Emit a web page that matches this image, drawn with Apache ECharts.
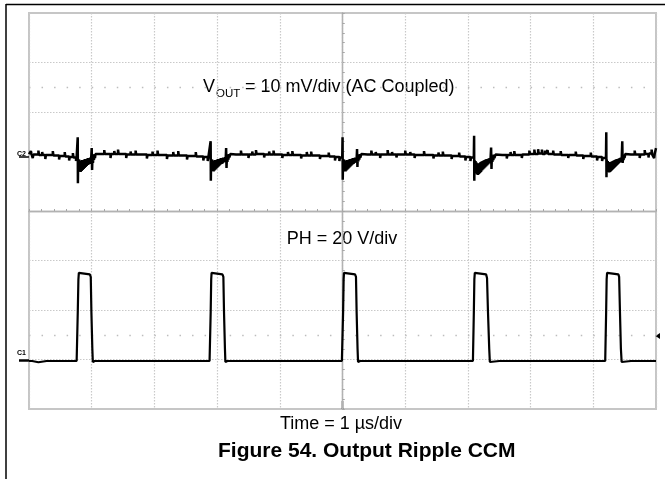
<!DOCTYPE html>
<html><head><meta charset="utf-8">
<script src="https://cdn.jsdelivr.net/npm/echarts@6/dist/echarts.min.js"></script>
<style>html,body{margin:0;padding:0;background:#fff}#c{width:665px;height:479px}</style>
</head><body><div id="c"></div><script>
const FONT = '"Liberation Sans", Arial, sans-serif';

// Horizontal: time in µs relative to trigger (1 µs/div, 10 div)
const timeRangeUs = [-5, 5];
// Vertical: screen divisions (8 div)
const divRange = [-4, 4];

// Channel 2: VOUT ripple, [time µs, mV] (AC coupled, 10 mV/div)
const voutScale = 10, voutOffsetDiv = 1.13;
const vout_mV = [
 [-5.00,0.2],[-4.97,0.2],[-4.97,0.8],[-4.96,0.2],[-4.94,0.2],[-4.94,-0.6],[-4.93,0.1],[-4.85,0.1],[-4.85,0.9],[-4.84,0.0],[-4.79,0.0],[-4.79,0.6],[-4.78,0.0],[-4.74,0.0],[-4.74,-0.8],[-4.73,0.0],[-4.62,0.0],[-4.62,0.8],[-4.61,-0.1],[-4.52,-0.1],[-4.52,-0.9],[-4.51,-0.2],[-4.43,-0.2],[-4.43,0.6],[-4.42,-0.3],[-4.36,-0.3],[-4.36,-1.1],[-4.35,-0.4],[-4.30,-0.4],[-4.30,0.4],[-4.29,-0.5],[-4.25,-0.5],[-4.25,-1.2],[-4.24,-0.4],
 [-4.226,-0.4],[-4.223,3.6],[-4.220,-5.7],[-4.216,-0.8],[-4.208,-3.0],[-4.200,-0.9],[-4.192,-3.3],[-4.184,-1.1],[-4.176,-3.4],[-4.168,-1.2],[-4.160,-3.2],[-4.152,-1.0],[-4.144,-3.0],[-4.136,-1.0],[-4.128,-2.8],[-4.120,-0.9],[-4.112,-2.6],[-4.104,-0.8],[-4.096,-2.4],[-4.088,-0.8],[-4.080,-2.2],[-4.072,-0.7],[-4.064,-2.0],[-4.056,-0.6],[-4.048,-1.9],[-4.040,-0.6],[-4.032,-1.8],[-4.024,-0.5],[-4.016,-1.6],[-4.008,-0.5],[-4.000,1.4],[-3.994,-3.0],[-3.988,-0.4],[-3.980,-1.6],[-3.972,-0.2],[-3.964,-1.0],[-3.956,0.2],[-3.948,-0.6],[-3.94,0.2],[-3.92,0.0],
 [-3.85,0.2],[-3.80,0.2],[-3.80,1.0],[-3.79,0.2],[-3.70,0.2],[-3.70,-0.6],[-3.69,0.2],[-3.64,0.2],[-3.64,0.8],[-3.63,0.2],[-3.58,0.2],[-3.58,1.1],[-3.57,0.2],[-3.45,0.2],[-3.45,-0.6],[-3.44,0.1],[-3.38,0.1],[-3.38,0.7],[-3.37,0.1],[-3.30,0.1],[-3.30,0.9],[-3.29,0.1],[-3.12,0.1],[-3.12,-0.7],[-3.11,0.0],[-3.03,0.0],[-3.03,0.7],[-3.02,0.0],[-2.95,0.0],[-2.95,0.9],[-2.94,0.0],[-2.80,0.0],[-2.80,-0.8],[-2.79,-0.1],[-2.70,-0.1],[-2.70,0.6],[-2.69,-0.1],[-2.62,-0.1],[-2.62,0.8],[-2.61,-0.1],[-2.48,-0.1],[-2.48,-0.9],[-2.47,-0.2],[-2.34,-0.2],[-2.34,0.6],[-2.33,-0.3],[-2.22,-0.3],[-2.22,-1.1],[-2.21,-0.4],[-2.15,-0.4],[-2.15,-1.2],[-2.14,-0.5],[-2.11,-0.5],
 [-2.106,-0.4],[-2.103,2.8],[-2.100,-5.2],[-2.096,-0.8],[-2.088,-2.8],[-2.080,-0.9],[-2.072,-3.2],[-2.064,-1.1],[-2.056,-3.3],[-2.048,-1.2],[-2.040,-3.1],[-2.032,-1.0],[-2.024,-2.9],[-2.016,-1.0],[-2.008,-2.7],[-2.000,-0.9],[-1.992,-2.5],[-1.984,-0.8],[-1.976,-2.3],[-1.968,-0.8],[-1.960,-2.1],[-1.952,-0.7],[-1.944,-1.9],[-1.936,-0.6],[-1.928,-1.8],[-1.920,-0.6],[-1.912,-1.7],[-1.904,-0.5],[-1.896,-1.5],[-1.888,-0.5],[-1.880,-1.4],[-1.872,-0.4],[-1.864,-1.2],[-1.856,1.4],[-1.850,-2.6],[-1.844,-0.4],[-1.836,-1.4],[-1.828,-0.1],[-1.820,-0.9],[-1.812,0.2],[-1.804,-0.5],[-1.79,0.2],[-1.77,0.0],
 [-1.70,0.1],[-1.62,0.1],[-1.62,0.9],[-1.61,0.1],[-1.50,0.1],[-1.50,-0.6],[-1.49,0.1],[-1.44,0.1],[-1.44,0.7],[-1.43,0.1],[-1.38,0.1],[-1.38,1.0],[-1.37,0.2],[-1.25,0.2],[-1.25,-0.5],[-1.24,0.1],[-1.17,0.1],[-1.17,0.7],[-1.16,0.1],[-1.10,0.1],[-1.10,0.9],[-1.09,0.1],[-0.96,0.1],[-0.96,-0.6],[-0.95,0.0],[-0.87,0.0],[-0.87,0.6],[-0.86,0.0],[-0.80,0.0],[-0.80,0.8],[-0.79,0.0],[-0.66,0.0],[-0.66,-0.7],[-0.65,-0.1],[-0.57,-0.1],[-0.57,0.6],[-0.56,-0.1],[-0.50,-0.1],[-0.50,0.7],[-0.49,-0.1],[-0.36,-0.1],[-0.36,-0.8],[-0.35,-0.2],[-0.22,-0.2],[-0.22,0.5],[-0.21,-0.3],[-0.12,-0.3],[-0.12,-1.1],[-0.11,-0.4],[-0.05,-0.4],[-0.05,-1.2],[-0.04,-0.5],[-0.004,-0.5],
 [-0.002,-0.4],[0.001,3.6],[0.004,-5.0],[0.008,-0.8],[0.016,-2.9],[0.024,-0.9],[0.032,-3.2],[0.040,-1.1],[0.048,-3.3],[0.056,-1.2],[0.064,-3.1],[0.072,-1.0],[0.080,-2.9],[0.088,-1.0],[0.096,-2.7],[0.104,-0.9],[0.112,-2.5],[0.120,-0.8],[0.128,-2.3],[0.136,-0.8],[0.144,-2.1],[0.152,-0.7],[0.160,-1.9],[0.168,-0.6],[0.176,-1.8],[0.184,-0.6],[0.192,-1.6],[0.200,-0.5],[0.208,-1.5],[0.216,-0.5],[0.224,-1.3],[0.232,1.2],[0.238,-2.4],[0.244,-0.4],[0.252,-1.3],[0.260,-0.1],[0.268,-0.9],[0.276,0.2],[0.284,-0.5],[0.30,0.2],[0.33,0.0],
 [0.40,0.1],[0.46,0.1],[0.46,0.9],[0.47,0.1],[0.53,0.1],[0.53,0.6],[0.54,0.1],[0.60,0.1],[0.60,-0.6],[0.61,0.1],[0.72,0.1],[0.72,1.0],[0.73,0.1],[0.79,0.1],[0.79,0.6],[0.80,0.1],[0.86,0.1],[0.86,-0.5],[0.87,0.1],[1.00,0.1],[1.00,0.9],[1.01,0.1],[1.08,0.1],[1.08,0.6],[1.09,0.1],[1.15,0.1],[1.15,-0.6],[1.16,0.0],[1.30,0.0],[1.30,0.8],[1.31,0.0],[1.45,0.0],[1.45,-0.7],[1.46,-0.1],[1.53,-0.1],[1.53,0.5],[1.54,-0.1],[1.60,-0.1],[1.60,0.7],[1.61,-0.1],[1.74,-0.1],[1.74,-0.8],[1.75,-0.2],[1.86,-0.2],[1.86,0.5],[1.87,-0.3],[1.96,-0.3],[1.96,-1.1],[1.97,-0.4],[2.04,-0.4],[2.04,-1.2],[2.05,-0.5],[2.094,-0.5],
 [2.096,-0.4],[2.099,3.9],[2.102,-5.2],[2.106,-1.0],[2.114,-3.2],[2.122,-1.2],[2.130,-3.6],[2.138,-1.5],[2.146,-3.9],[2.154,-1.7],[2.162,-4.0],[2.170,-1.7],[2.178,-3.8],[2.186,-1.6],[2.194,-3.6],[2.202,-1.4],[2.210,-3.4],[2.218,-1.3],[2.226,-3.1],[2.234,-1.2],[2.242,-2.9],[2.250,-1.1],[2.258,-2.7],[2.266,-1.0],[2.274,-2.5],[2.282,-0.9],[2.290,-2.3],[2.298,-0.8],[2.306,-2.1],[2.314,-0.8],[2.322,-1.9],[2.330,-0.7],[2.338,-1.7],[2.346,-0.6],[2.354,-1.5],[2.362,-0.5],[2.370,1.5],[2.376,-2.8],[2.382,-0.4],[2.390,-1.4],[2.398,-0.2],[2.406,-1.0],[2.414,0.1],[2.422,-0.6],[2.44,0.1],[2.47,0.0],
 [2.55,0.0],[2.62,0.0],[2.62,-0.7],[2.63,0.0],[2.68,0.0],[2.68,0.6],[2.69,0.0],[2.74,0.0],[2.74,0.8],[2.75,0.0],[2.86,0.0],[2.86,-0.6],[2.87,0.1],[2.98,0.1],[2.98,0.9],[2.99,0.2],[3.06,0.2],[3.06,1.1],[3.07,0.2],[3.12,0.2],[3.12,1.2],[3.13,0.3],[3.18,0.3],[3.18,1.1],[3.19,0.2],[3.23,0.2],[3.23,0.9],[3.24,0.2],[3.27,0.2],[3.27,1.0],[3.28,0.2],[3.36,0.2],[3.36,0.9],[3.37,0.1],[3.48,0.1],[3.48,0.8],[3.49,0.0],[3.60,0.0],[3.60,-0.6],[3.61,0.0],[3.72,0.0],[3.72,0.7],[3.73,-0.1],[3.84,-0.1],[3.84,-0.8],[3.85,-0.2],[3.96,-0.2],[3.96,0.5],[3.97,-0.3],[4.06,-0.3],[4.06,-1.1],[4.07,-0.4],[4.14,-0.4],[4.14,-1.2],[4.15,-0.6],[4.202,-0.6],
 [4.204,-0.5],[4.207,4.6],[4.210,-4.5],[4.214,-0.9],[4.222,-3.0],[4.230,-1.2],[4.238,-3.4],[4.246,-1.4],[4.254,-3.5],[4.262,-1.5],[4.270,-3.4],[4.278,-1.4],[4.286,-3.2],[4.294,-1.3],[4.302,-3.0],[4.310,-1.2],[4.318,-2.8],[4.326,-1.1],[4.334,-2.6],[4.342,-1.0],[4.350,-2.4],[4.358,-0.9],[4.366,-2.2],[4.374,-0.8],[4.382,-2.0],[4.390,-0.8],[4.398,-1.8],[4.406,-0.7],[4.414,-1.6],[4.422,-0.6],[4.430,-1.4],[4.438,-0.5],[4.446,-1.2],[4.454,-0.4],[4.462,2.8],[4.468,-1.6],[4.474,-0.3],[4.482,-1.0],[4.490,0.1],[4.498,-0.6],[4.51,0.2],[4.54,0.0],
 [4.60,0.1],[4.66,0.1],[4.66,0.9],[4.67,0.1],[4.74,0.1],[4.74,-0.6],[4.75,0.1],[4.82,0.1],[4.82,1.0],[4.83,0.2],[4.88,0.2],[4.88,-0.5],[4.89,0.3],[4.93,0.3],[4.93,1.1],[4.94,0.1],[4.97,0.2],[4.97,-0.6],[4.98,0.3],[5.00,1.4]
];

// Channel 1: PH switch node, [time µs, V] (20 V/div)
const phScale = 20, phOffsetDiv = -3.03;
const ph_V = [
 [-5.00,0.0],[-4.95,0.0],[-4.85,-0.5],[-4.84,0.0],[-4.72,0.0],[-4.71,-0.5],[-4.70,0.0],[-4.58,0.0],[-4.57,-0.5],[-4.56,0.0],[-4.46,0.0],[-4.45,-0.5],[-4.44,0.0],[-4.24,0.0],
 [-4.232,0.5],[-4.222,20],[-4.212,33],[-4.205,35.6],[-4.19,35.6],[-4.175,35.0],[-4.03,35.0],[-4.015,34.0],[-4.005,20],[-3.99,5],[-3.982,-0.4],[-3.96,-0.4],[-3.95,0.0],
 [-3.90,0.0],[-3.89,-0.5],[-3.88,0.0],[-3.78,0.0],[-3.77,-0.5],[-3.76,0.0],[-3.55,0.0],[-3.54,-0.5],[-3.53,0.0],[-3.30,0.0],[-3.29,-0.5],[-3.28,0.0],[-2.95,0.0],[-2.94,-0.5],[-2.93,0.0],[-2.70,0.0],[-2.69,-0.5],[-2.68,0.0],[-2.40,0.0],[-2.39,-0.5],[-2.38,0.0],[-2.12,0.0],
 [-2.112,0.5],[-2.102,20],[-2.094,33],[-2.088,35.6],[-2.072,35.6],[-2.06,35.0],[-1.915,35.0],[-1.90,34.0],[-1.89,20],[-1.875,5],[-1.868,-0.4],[-1.845,-0.4],[-1.835,0.0],
 [-1.75,0.0],[-1.74,-0.5],[-1.73,0.0],[-1.50,0.0],[-1.49,-0.5],[-1.48,0.0],[-1.20,0.0],[-1.19,-0.5],[-1.18,0.0],[-0.85,0.0],[-0.84,-0.5],[-0.83,0.0],[-0.55,0.0],[-0.54,-0.5],[-0.53,0.0],[-0.25,0.0],[-0.24,-0.4],[-0.23,0.0],[-0.01,0.0],
 [0.000,0.5],[0.010,20],[0.018,33],[0.024,35.6],[0.04,35.6],[0.052,35.0],[0.20,35.0],[0.215,34.0],[0.225,20],[0.24,5],[0.248,-0.4],[0.27,-0.4],[0.28,0.0],
 [0.40,0.0],[0.41,-0.5],[0.42,0.0],[0.70,0.0],[0.71,-0.5],[0.72,0.0],[1.00,0.0],[1.01,-0.5],[1.02,0.0],[1.30,0.0],[1.31,-0.5],[1.32,0.0],[1.60,0.0],[1.61,-0.5],[1.62,0.0],[1.85,0.0],[1.86,-0.4],[1.87,0.0],[2.08,0.0],
 [2.085,0.5],[2.095,20],[2.103,33],[2.11,35.6],[2.125,35.6],[2.137,35.0],[2.29,35.0],[2.305,33.5],[2.32,20],[2.34,5],[2.35,-0.4],[2.37,-0.4],[2.38,0.0],
 [2.50,0.0],[2.51,-0.5],[2.52,0.0],[2.80,0.0],[2.81,-0.5],[2.82,0.0],[3.10,0.0],[3.11,-0.5],[3.12,0.0],[3.40,0.0],[3.41,-0.5],[3.42,0.0],[3.70,0.0],[3.71,-0.5],[3.72,0.0],[3.95,0.0],[3.96,-0.4],[3.97,0.0],[4.19,0.0],
 [4.195,0.5],[4.205,20],[4.213,33],[4.22,35.6],[4.235,35.6],[4.247,35.0],[4.40,35.0],[4.412,34.0],[4.425,20],[4.44,5],[4.452,-0.4],[4.47,-0.4],[4.48,0.0],
 [4.60,0.0],[4.61,-0.5],[4.62,0.0],[4.75,0.0],[4.76,0.5],[4.77,0.0],[4.90,0.0],[4.91,-0.5],[4.92,0.0],[5.00,0.0]
];

// Graticule levels (divisions)
const dottedLevels = [3, 2, -1, -2, -3];
const halfDivLevels = [2.5, -2.5];

// Texts
const voutLabel = ['V', 'OUT', ' = 10 mV/div (AC Coupled)'];
const phLabel = 'PH = 20 V/div';
const timeLabel = 'Time = 1 \u00b5s/div';
const captionLabel = 'Figure 54. Output Ripple CCM';
const channelLabels = ['C2', 'C1'];

const voutDiv = vout_mV.map(p => [p[0], voutOffsetDiv + p[1] / voutScale]);
const phDiv = ph_V.map(p => [p[0], phOffsetDiv + p[1] / phScale]);

const GRID = { left: 29, top: 13, width: 627, height: 396 };
const dotColor = '#c9c9c9';
const axisColor = '#b2b2b2';

function xAx(inside) {
  return {
    type: 'value', min: timeRangeUs[0], max: timeRangeUs[1], interval: 1,
    axisLine: { show: true, onZero: true, lineStyle: { color: axisColor, width: 1.3 } },
    axisTick: { show: true, inside: inside, length: 2, lineStyle: { color: '#a6a6a6', width: 1 } },
    minorTick: { show: true, splitNumber: 5, length: 2, lineStyle: { color: '#a6a6a6', width: 1 } },
    axisLabel: { show: false },
    splitLine: { show: inside, lineStyle: { color: dotColor, width: 1.2, type: [1.5, 1.5] } },
    minorSplitLine: { show: false }
  };
}
function yAx(inside) {
  return {
    type: 'value', min: divRange[0], max: divRange[1], interval: 1,
    axisLine: { show: true, onZero: true, lineStyle: { color: axisColor, width: 1.3 } },
    axisTick: { show: true, inside: inside, length: 2, lineStyle: { color: '#a6a6a6', width: 1 } },
    minorTick: { show: true, splitNumber: 5, length: 2, lineStyle: { color: '#a6a6a6', width: 1 } },
    axisLabel: { show: false },
    splitLine: { show: false },
    minorSplitLine: { show: false }
  };
}

const markData = dottedLevels.map(v => ({ yAxis: v, lineStyle: { color: dotColor, width: 1.2, type: [1.5, 1.5] } }))
  .concat(halfDivLevels.map(v => ({ yAxis: v, lineStyle: { color: '#bdbdbd', width: 1.3, type: [1.5, 11.04] } })));

const chart = echarts.init(document.getElementById('c'), null, { renderer: 'canvas', width: 665, height: 479 });
chart.setOption({
  animation: false,
  backgroundColor: '#ffffff',
  grid: Object.assign({ show: true, borderColor: '#c6c6c6', borderWidth: 2, backgroundColor: 'transparent', outerBoundsMode: 'none', containLabel: false }, GRID),
  xAxis: [xAx(true), xAx(false)],
  yAxis: [yAx(true), yAx(false)],
  series: [
    { type: 'line', name: 'graticule', data: [], z: 1, silent: true, showSymbol: false,
      markLine: { silent: true, symbol: ['none', 'none'], label: { show: false }, emphasis: { disabled: true }, data: markData } },
    { type: 'line', name: 'PH', data: phDiv, z: 5, showSymbol: false, symbol: 'none', silent: true,
      lineStyle: { color: '#000', width: 2.2 } },
    { type: 'line', name: 'VOUT', data: voutDiv, z: 5, showSymbol: false, symbol: 'none', silent: true,
      lineStyle: { color: '#000', width: 2.5 } }
  ],
  graphic: [
    { type: 'line', shape: { x1: 6, y1: 4.5, x2: 665, y2: 4.5 }, style: { stroke: '#000', lineWidth: 1.5 } },
    { type: 'line', shape: { x1: 6, y1: 4, x2: 6, y2: 479 }, style: { stroke: '#000', lineWidth: 1.5 } },
    { type: 'text', x: 203, y: 87.5, style: { text: voutLabel[0], fontSize: 18, fontFamily: FONT, fill: '#000', align: 'left', verticalAlign: 'middle' } },
    { type: 'text', x: 216, y: 93.5, style: { text: voutLabel[1], fontSize: 11.5, fontFamily: FONT, fill: '#000', align: 'left', verticalAlign: 'middle' } },
    { type: 'text', x: 240, y: 87.5, style: { text: voutLabel[2], fontSize: 18, fontFamily: FONT, fill: '#000', align: 'left', verticalAlign: 'middle' } },
    { type: 'text', x: 342, y: 239, style: { text: phLabel, fontSize: 18, fontFamily: FONT, fill: '#000', align: 'center', verticalAlign: 'middle' } },
    { type: 'text', x: 341, y: 424, style: { text: timeLabel, fontSize: 18, fontFamily: FONT, fill: '#000', align: 'center', verticalAlign: 'middle' } },
    { type: 'text', x: 218, y: 451, style: { text: captionLabel, fontSize: 21, fontWeight: 'bold', fontFamily: FONT, fill: '#000', align: 'left', verticalAlign: 'middle' } },
    { type: 'text', x: 17, y: 154, style: { text: channelLabels[0], fontSize: 7, fontWeight: 'bold', fontFamily: FONT, fill: '#000', align: 'left', verticalAlign: 'middle' } },
    { type: 'text', x: 17, y: 353.5, style: { text: channelLabels[1], fontSize: 7, fontWeight: 'bold', fontFamily: FONT, fill: '#000', align: 'left', verticalAlign: 'middle' } },
    { type: 'line', shape: { x1: 19, y1: 360.5, x2: 29, y2: 360.5 }, style: { stroke: '#000', lineWidth: 2.5 } },
    { type: 'line', shape: { x1: 19, y1: 157, x2: 29, y2: 157 }, style: { stroke: '#000', lineWidth: 1.5 } },
    { type: 'polygon', shape: { points: [[655.5, 336], [660, 333], [660, 339]] }, style: { fill: '#000' } },
    { type: 'line', shape: { x1: 342.5, y1: 401, x2: 342.5, y2: 409 }, style: { stroke: '#000', lineWidth: 1.5 } }
  ]
});
</script></body></html>
